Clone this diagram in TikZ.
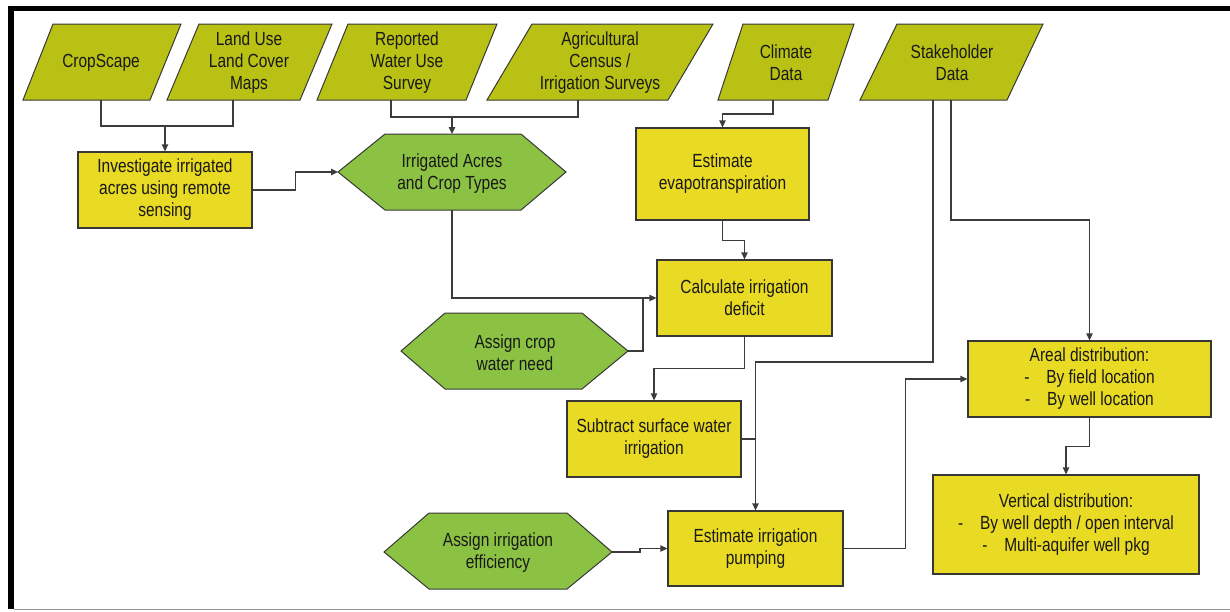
\documentclass[tikz,border=0pt]{standalone}
\usepackage{fontspec}
\setmainfont{Liberation Sans}[FakeStretch=0.815]
\usetikzlibrary{arrows.meta}
\definecolor{paraolive}{RGB}{185,193,21}
\definecolor{hexgreen}{RGB}{139,194,67}
\definecolor{boxyellow}{RGB}{233,218,35}
\definecolor{edgegray}{RGB}{55,55,55}
\definecolor{conngray}{RGB}{60,60,60}
\definecolor{framegray}{RGB}{150,150,150}
\definecolor{txt}{RGB}{25,25,25}
\tikzset{
  para/.style={fill=paraolive, draw=edgegray, line width=0.5pt},
  hex/.style={fill=hexgreen, draw=edgegray, line width=0.5pt},
  box/.style={fill=boxyellow, draw=edgegray, line width=0.6pt, align=center,
    font=\fontsize{9.5}{11}\selectfont, inner sep=0pt, text=txt},
  lbl/.style={align=center, font=\fontsize{9.5}{11}\selectfont, inner sep=0pt, text=txt},
  conn/.style={draw=conngray, line width=0.6pt},
  arr/.style={conn, -{Triangle[length=3.5pt,width=3.2pt]}},
}
\newcommand{\dashitem}[1]{\makebox[11pt][l]{-}#1}
\begin{document}
\begin{tikzpicture}[x=0.5pt,y=-0.5pt]
\useasboundingbox (0,0) rectangle (1230,611);
% frame
\fill[black] (8,6) rectangle (1230,11);
\fill[black] (8,6) rectangle (14,609);
\draw[framegray, line width=0.6pt] (14,609.5) -- (1230,609.5);

% parallelograms (inputs)
\draw[para] (53,24) -- (181,24) -- (150,100) -- (23,100) -- cycle;
\node[lbl] (crop) at (101,63) {CropScape};
\draw[para] (199,24) -- (332,24) -- (300,100) -- (167,100) -- cycle;
\node[lbl] (lulc) at (249,63) {Land Use\\Land Cover\\Maps};
\draw[para] (348,24) -- (497,24) -- (466,100) -- (317,100) -- cycle;
\node[lbl] (rwu) at (407,63) {Reported\\Water Use\\Survey};
\draw[para] (532,24) -- (713,24) -- (668,100) -- (487,100) -- cycle;
\node[lbl] (agri) at (600,63) {Agricultural\\Census /\\Irrigation Surveys};
\draw[para] (743,24) -- (854,24) -- (828,100) -- (718,100) -- cycle;
\node[lbl] (clim) at (786,63) {Climate\\Data};
\draw[para] (897,24) -- (1043,24) -- (1007,100) -- (860,100) -- cycle;
\node[lbl] (stake) at (952,63) {Stakeholder\\Data};

\coordinate (crop-b) at (101,100);
\coordinate (lulc-b) at (233,100);
\coordinate (rwu-b) at (391,100);
\coordinate (agri-b) at (578,100);
\coordinate (clim-b) at (773,100);
\coordinate (stake-b1) at (933,100);
\coordinate (stake-b2) at (951,100);

% hexagons
\draw[hex] (338,172) -- (385,134) -- (521,134) -- (566,172) -- (521,210) -- (385,210) -- cycle;
\node[lbl] (acres) at (452,174) {Irrigated Acres\\and Crop Types};
\coordinate (acres-w) at (338,172);
\coordinate (acres-n) at (452,134);
\coordinate (acres-s) at (452,210);

\draw[hex] (401,351) -- (445,313) -- (582,313) -- (628,351) -- (582,389) -- (445,389) -- cycle;
\node[lbl] (cwn) at (515,353) {Assign crop\\water need};
\coordinate (cwn-e) at (628,351);

\draw[hex] (384,552) -- (429,513) -- (567,513) -- (612,552) -- (567,589) -- (429,589) -- cycle;
\node[lbl] (eff) at (498,553) {Assign irrigation\\efficiency};
\coordinate (eff-e) at (612,552);

% process boxes
\node[box, minimum width=87pt, minimum height=38pt] (inv) at (165,190)
  {Investigate irrigated\\acres using remote\\sensing};
\node[box, minimum width=86.5pt, minimum height=46pt] (evap) at (722.5,174)
  {Estimate\\evapotranspiration};
\node[box, minimum width=87.5pt, minimum height=38pt] (calc) at (744.5,298)
  {Calculate irrigation\\deficit};
\node[box, minimum width=87pt, minimum height=38pt] (sub) at (654,439)
  {Subtract surface water\\irrigation};
\node[box, minimum width=87.5pt, minimum height=37.5pt] (pump) at (755.5,548.5)
  {Estimate irrigation\\pumping};
\node[box, minimum width=121.5pt, minimum height=38pt] (areal) at (1089.5,379)
  {Areal distribution:\\\dashitem{By field location}\\\dashitem{By well location}};
\node[box, minimum width=133pt, minimum height=49.5pt] (vert) at (1066,524.5)
  {Vertical distribution:\\\dashitem{By well depth / open interval}\\\dashitem{Multi-aquifer well pkg}};

% connectors
\coordinate (j-a) at (165,126);
\draw[conn] (crop-b) -- ++(0,26) -| (lulc-b);
\draw[arr] (j-a) -- (inv.north);

\draw[arr] (inv.east) -- ++(43,0) |- (acres-w);

\coordinate (j-c) at (452,117);
\draw[conn] (rwu-b) -- ++(0,17) -| (agri-b);
\draw[arr] (j-c) -- (acres-n);

\draw[arr] (clim-b) -- ++(0,14) -| (evap.north);

\draw[arr] (acres-s) |- (calc.west);
\coordinate (j-f) at (643,298);
\draw[conn] (cwn-e) -| (j-f);

\draw[arr] (evap.south) -- ++(0,20) -| (calc.north);
\draw[arr] (calc.south) -- ++(0,32) -| (sub.north);

\coordinate (j-i) at (755.5,439);
\draw[conn] (sub.east) -- (j-i);
\draw[arr] (stake-b1) -- ++(0,262) -| (pump.north);
\draw[arr] (stake-b2) -- ++(0,120) -| (areal.north);

\draw[arr] (eff-e) -- ++(28,0) |- (pump.west);
\draw[arr] (pump.east) -- ++(62,0) |- (areal.west);
\draw[arr] (areal.south) -- ++(0,29) -| (vert.north);
\end{tikzpicture}
\end{document}
